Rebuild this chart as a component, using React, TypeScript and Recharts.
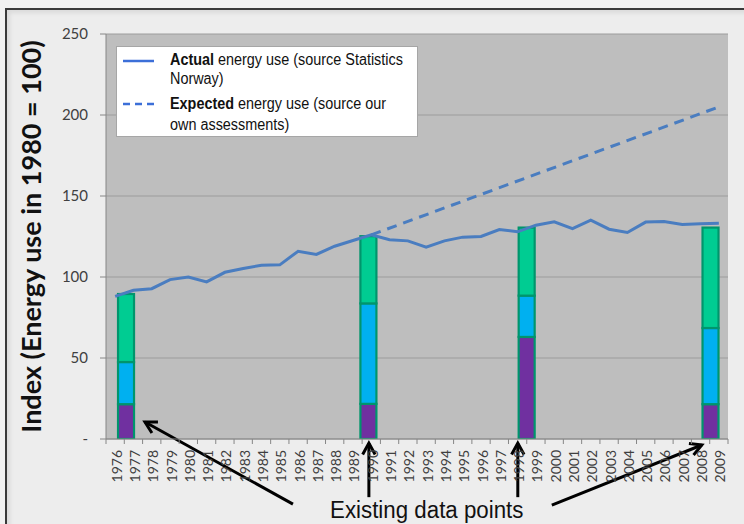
import React from 'react';
import { ComposedChart, Line, Bar, XAxis, YAxis, CartesianGrid, ReferenceLine, Legend } from 'recharts';

// ---- data ----
const years = [1976, 1977, 1978, 1979, 1980, 1981, 1982, 1983, 1984, 1985, 1986, 1987, 1988, 1989, 1990, 1991, 1992, 1993, 1994, 1995, 1996, 1997, 1998, 1999, 2000, 2001, 2002, 2003, 2004, 2005, 2006, 2007, 2008, 2009];
const actualIndex = [88, 91.8, 92.8, 98.4, 100, 97, 102.9, 105.2, 107.3, 107.5, 115.9, 113.9, 119, 122.5, 126, 123, 122.3, 118.4, 122.3, 124.6, 125, 129.3, 127.9, 132, 134.1, 129.8, 135.1, 129.5, 127.5, 133.9, 134.3, 132.4, 132.8, 133.2];
const expectedYears = [1990, 2009];
const expectedIndex = [126, 205];
const surveyPositions = [1976.6, 1989.85, 1998.5, 2008.55];
const surveyPurple = [21.5, 21.7, 63, 21.5];
const surveyBlue = [26, 62, 25.5, 47];
const surveyGreen = [42, 41.5, 42, 62];
const yTicks = [0, 50, 100, 150, 200, 250];
const yLabel = 'Index (Energy use in 1980 = 100)';
const annotationText = 'Existing data points';
// annotation arrows (tail -> head) in data coordinates
const arrowTails = [[1985.72, -40.2], [1989.87, -35.9], [1998.01, -35.9], [1999.87, -40.8]];
const arrowHeads = [[1977.63, 10.5], [1989.87, -2.5], [1998.01, -2.5], [2008.07, -3.7]];

// ---- styling ----
const LINE_BLUE = '#4A7DC0';
const PURPLE = '#7030A0';
const CYAN = '#00B0F0';
const GREEN = '#00CC92';
const BORDER_GREEN = '#00956C';
const ARIAL = '"Liberation Sans", Arial, sans-serif';
const TICK_FONT = 'Lato, "Open Sans", sans-serif';
const BAR_W = 16;

const W = 744;
const H = 524;
const MARGIN = { top: 34, right: 16, bottom: 0, left: 0 };
const Y_AXIS_W = 106;
const X_AXIS_H = 85;
const PLOT_W = W - MARGIN.left - MARGIN.right - Y_AXIS_W;
const HALF_BAND = PLOT_W / years.length / 2;

const rows: any[] = years.map((yr, i) => {
  const e = expectedYears.indexOf(yr);
  return { x: yr, actual: actualIndex[i], expected: e >= 0 ? expectedIndex[e] : undefined };
});
surveyPositions.forEach((p, i) => {
  rows.push({ x: p, purple: surveyPurple[i], blue: surveyBlue[i], green: surveyGreen[i] });
});
rows.sort((a, b) => a.x - b.x);

const XTick = (props: any) => {
  const { x, y, payload, index } = props;
  const axisY = y - 8;
  const last = index === years.length - 1;
  return (
    <g>
      <line x1={x - HALF_BAND} y1={axisY} x2={x - HALF_BAND} y2={axisY + 5} stroke="#868686" />
      {last && <line x1={x + HALF_BAND} y1={axisY} x2={x + HALF_BAND} y2={axisY + 5} stroke="#868686" />}
      <text
        x={0}
        y={0}
        transform={`translate(${x + 1},${y + 3}) rotate(-90)`}
        textAnchor="end"
        dominantBaseline="central"
        fontFamily={TICK_FONT}
        fontSize={14}
        fill="#404040"
      >
        {payload.value}
      </text>
    </g>
  );
};

const SegmentShape = (props: any) => {
  const { x, y, width, height, fill } = props;
  if (!height || height <= 0) return null;
  const cx = x + width / 2;
  return (
    <rect
      x={cx - BAR_W / 2}
      y={y}
      width={BAR_W}
      height={height}
      fill={fill}
      stroke={BORDER_GREEN}
      strokeWidth={2.2}
    />
  );
};

const Arrow = (props: any) => {
  const { x1, y1, x2, y2 } = props;
  const ang = Math.atan2(y2 - y1, x2 - x1);
  const len = 13;
  const spread = 0.5;
  const ax = x2 - len * Math.cos(ang - spread);
  const ay = y2 - len * Math.sin(ang - spread);
  const bx = x2 - len * Math.cos(ang + spread);
  const by = y2 - len * Math.sin(ang + spread);
  return (
    <g>
      <line x1={x1} y1={y1} x2={x2} y2={y2} stroke="#000" strokeWidth={3} />
      <polyline points={`${ax},${ay} ${x2},${y2} ${bx},${by}`} fill="none" stroke="#000" strokeWidth={3} strokeLinejoin="miter" />
    </g>
  );
};

const narrowText: React.CSSProperties = {
  position: 'absolute',
  whiteSpace: 'nowrap',
  transform: 'scaleX(0.9)',
  transformOrigin: 'left top',
};

const LegendBox = () => (
  <div
    style={{
      position: 'relative',
      width: 302,
      height: 91,
      background: '#fff',
      border: '1px solid #A6A6A6',
      boxSizing: 'border-box',
      fontFamily: ARIAL,
      fontSize: 16,
      color: '#111',
    }}
  >
    <svg width={40} height={91} style={{ position: 'absolute', left: 0, top: 0 }}>
      <line x1={6} y1={14} x2={37} y2={14} stroke="#3C6FD8" strokeWidth={2.5} />
      <line x1={6} y1={57} x2={37} y2={57} stroke="#3C6FD8" strokeWidth={2.5} strokeDasharray="7 5" />
    </svg>
    <div style={{ ...narrowText, left: 53, top: 3, lineHeight: '19px' }}>
      <b>Actual</b> energy use (source Statistics<br />Norway)
    </div>
    <div style={{ ...narrowText, left: 53, top: 46, lineHeight: '21px' }}>
      <b>Expected</b> energy use (source our<br />own assessments)
    </div>
  </div>
);

export default function App() {
  return (
    <div style={{ position: 'absolute', left: 0, top: 0, width: W, height: H, background: '#F1F1F1', overflow: 'hidden' }}>
      <div
        style={{
          position: 'absolute',
          left: 5,
          top: 8,
          width: W,
          height: H,
          background: '#EDEDED',
          borderTop: '2px solid #3A3A3A',
          borderLeft: '2px solid #3A3A3A',
          boxShadow: 'inset 3px 3px 4px rgba(0,0,0,0.08)',
        }}
      />
      <div style={{ position: 'absolute', left: 0, top: 0 }}>
        <ComposedChart width={W} height={H} data={rows} margin={MARGIN}>
          <CartesianGrid horizontal vertical={false} stroke="#9C9C9C" fill="#BEBEBE" fillOpacity={1} />
          <XAxis
            dataKey="x"
            type="number"
            domain={[years[0] - 0.5, years[years.length - 1] + 0.5]}
            allowDataOverflow
            ticks={years}
            interval={0}
            height={X_AXIS_H}
            tickLine={false}
            tickSize={6}
            tickMargin={2}
            axisLine={{ stroke: '#868686' }}
            tick={<XTick />}
          />
          <YAxis
            type="number"
            domain={[0, 250]}
            allowDataOverflow
            ticks={yTicks}
            width={Y_AXIS_W}
            tickSize={6}
            tickMargin={12}
            tickLine={{ stroke: '#868686' }}
            axisLine={{ stroke: '#868686' }}
            tick={{ fontFamily: TICK_FONT, fontSize: 15, fill: '#404040' }}
            tickFormatter={(v: number) => (v === 0 ? '-' : String(v))}
            label={{
              value: yLabel,
              angle: -90,
              position: 'insideLeft',
              offset: 31,
              style: { textAnchor: 'middle', fontFamily: 'Lato, sans-serif', fontWeight: 700, fontSize: 27, fill: '#111' },
            }}
          />
          <Legend
            layout="horizontal"
            verticalAlign="middle"
            align="center"
            wrapperStyle={{ position: 'absolute', left: 116, top: 46, width: 302, height: 91 }}
            content={() => <LegendBox />}
          />
          <Bar dataKey="purple" stackId="s" fill={PURPLE} shape={(p: any) => <SegmentShape {...p} />} isAnimationActive={false} legendType="none" />
          <Bar dataKey="blue" stackId="s" fill={CYAN} shape={(p: any) => <SegmentShape {...p} />} isAnimationActive={false} legendType="none" />
          <Bar dataKey="green" stackId="s" fill={GREEN} shape={(p: any) => <SegmentShape {...p} />} isAnimationActive={false} legendType="none" />
          <Line dataKey="actual" type="linear" stroke={LINE_BLUE} strokeWidth={3} dot={false} connectNulls isAnimationActive={false} />
          <Line dataKey="expected" type="linear" stroke={LINE_BLUE} strokeWidth={3} strokeDasharray="10 7" dot={false} connectNulls isAnimationActive={false} />
          {arrowTails.map((t, i) => (
            <ReferenceLine
              key={i}
              segment={[{ x: t[0], y: t[1] }, { x: arrowHeads[i][0], y: arrowHeads[i][1] }]}
              ifOverflow="visible"
              shape={(p: any) => <Arrow {...p} />}
            />
          ))}
        </ComposedChart>
      </div>
      <div
        style={{
          position: 'absolute',
          left: 330,
          top: 499,
          whiteSpace: 'nowrap',
          fontFamily: ARIAL,
          fontSize: 23,
          lineHeight: '23px',
          color: '#111',
          transform: 'scaleX(0.97)',
          transformOrigin: 'left top',
        }}
      >
        {annotationText}
      </div>
    </div>
  );
}
